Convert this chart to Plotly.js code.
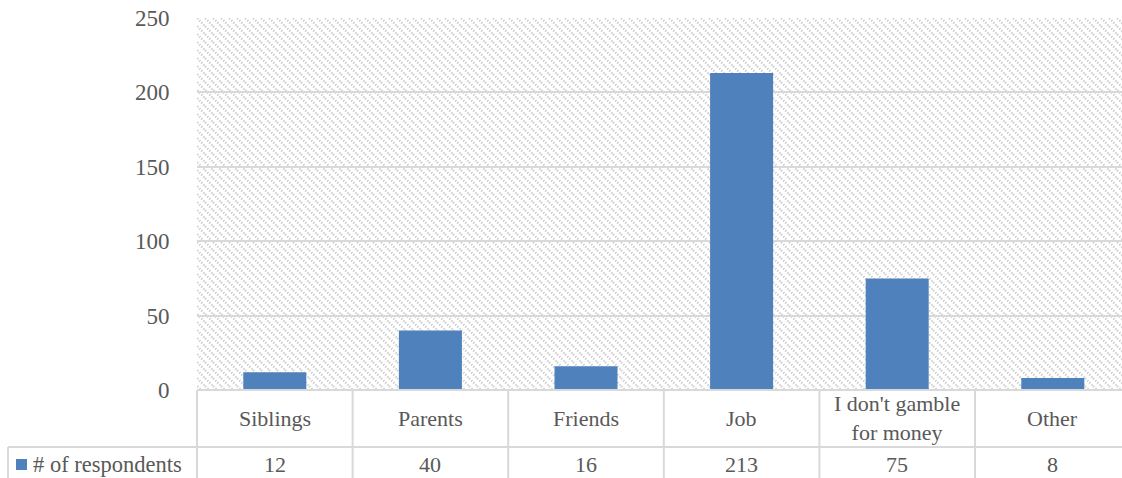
<!DOCTYPE html>
<html>
<head>
<meta charset="utf-8">
<script src="https://cdn.plot.ly/plotly-3.0.1.min.js"></script>
<style>html,body{margin:0;padding:0;background:#fff;}#chart{width:1122px;height:478px;}</style>
</head>
<body>
<div id="chart"></div>
<script>
const categories = ["Siblings", "Parents", "Friends", "Job", "I don't gamble<br>for money", "Other"];
const values = [12, 40, 16, 213, 75, 8];
const seriesName = "# of respondents";
const yTicks = [0, 50, 100, 150, 200, 250];

const W = 1122, H = 478;
const mL = 197, mR = 0, mT = 18, mB = 88;
const pw = W - mL - mR, ph = H - mT - mB;
const colW = 155.6;
const xRight = -0.5 + pw / colW;
const px2x = p => (p - mL) / pw;
const py2y = p => (H - mB - p) / ph;

const font = "Liberation Serif, Times New Roman, serif";
const txt = "#595959";
const lineC = "#d9d9d9";

const svg = `<svg xmlns="http://www.w3.org/2000/svg" width="${pw}" height="${ph}">
<defs><pattern id="p" width="8" height="8" patternUnits="userSpaceOnUse">
<path d="M-2,-2 L10,10 M-2,6 L2,10 M6,-2 L10,2" stroke="#d2d2d2" stroke-width="2.4" stroke-dasharray="1.5,1.5"/>
</pattern></defs>
<rect width="100%" height="100%" fill="#ffffff"/>
<rect width="100%" height="100%" fill="url(#p)"/>
</svg>`;
const svgUri = "data:image/svg+xml;base64," + btoa(svg);

const xs = categories.map((c, i) => i);

const shapes = [];
shapes.push({type: "line", xref: "paper", yref: "paper", x0: px2x(8), x1: 1.01, y0: py2y(447), y1: py2y(447), line: {color: lineC, width: 2}});
shapes.push({type: "line", xref: "paper", yref: "paper", x0: 0, x1: 1.01, y0: py2y(390), y1: py2y(390), line: {color: lineC, width: 2}});
for (let k = 0; k < categories.length; k++) {
  const xp = px2x(mL + colW * k);
  shapes.push({type: "line", xref: "paper", yref: "paper", x0: xp, x1: xp, y0: py2y(390), y1: py2y(480), line: {color: lineC, width: 2}});
}
shapes.push({type: "line", xref: "paper", yref: "paper", x0: px2x(8), x1: px2x(8), y0: py2y(447), y1: py2y(480), line: {color: lineC, width: 2}});
shapes.push({type: "rect", xref: "paper", yref: "paper", x0: px2x(16), x1: px2x(27), y0: py2y(470), y1: py2y(459), line: {width: 0}, fillcolor: "#4f81bd"});

const annotations = [];
categories.forEach((c, i) => {
  annotations.push({x: i, xref: "x", y: py2y(418), yref: "paper", text: c, showarrow: false, xanchor: "center", yanchor: "middle", font: {family: font, size: 22, color: txt}});
  annotations.push({x: i, xref: "x", y: py2y(464.5), yref: "paper", text: String(values[i]), showarrow: false, xanchor: "center", yanchor: "middle", font: {family: font, size: 22, color: txt}});
});
annotations.push({x: px2x(31), xref: "paper", y: py2y(464), yref: "paper", text: seriesName, showarrow: false, xanchor: "left", yanchor: "middle", font: {family: font, size: 22.5, color: txt}});

const data = [{
  type: "bar",
  x: xs,
  y: values,
  name: seriesName,
  width: 0.405,
  marker: {color: "#4f81bd"},
  hoverinfo: "y"
}];

const layout = {
  width: W, height: H,
  margin: {l: mL, r: mR, t: mT, b: mB, pad: 0},
  paper_bgcolor: "#ffffff",
  plot_bgcolor: "rgba(0,0,0,0)",
  showlegend: false,
  xaxis: {type: "linear", range: [-0.5, xRight], showgrid: false, zeroline: false, showticklabels: false, ticks: "", showline: false, fixedrange: true},
  yaxis: {range: [0, 250], tickvals: yTicks, ticktext: yTicks.map(String), showgrid: true, gridcolor: lineC, gridwidth: 2, zeroline: false, showline: false, ticks: "outside", ticklen: 22, tickcolor: "rgba(0,0,0,0)", tickfont: {family: font, size: 23, color: txt}, fixedrange: true},
  images: [{source: svgUri, xref: "paper", yref: "paper", x: 0, y: 1, sizex: 1, sizey: 1, xanchor: "left", yanchor: "top", sizing: "stretch", layer: "below"}],
  shapes: shapes,
  annotations: annotations
};

Plotly.newPlot("chart", data, layout, {displayModeBar: false, staticPlot: true});
</script>
</body>
</html>
